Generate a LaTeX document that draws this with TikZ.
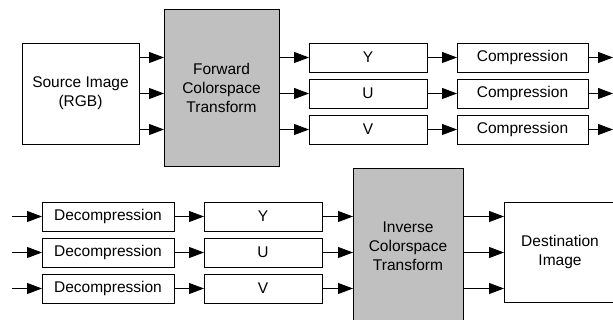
\documentclass[tikz,border=0pt]{standalone}
\usepackage{fontspec}
\setmainfont{Liberation Sans}
\usetikzlibrary{arrows.meta}
\definecolor{boxgray}{RGB}{192,192,192}
\begin{document}
\begin{tikzpicture}[x=1pt,y=-1pt,
  box/.style={draw, line width=0.9pt, rectangle, inner sep=0pt, outer sep=0pt,
    align=center, anchor=north west, font=\fontsize{15.5}{19}\selectfont},
  gbox/.style={box, fill=boxgray},
  arr/.style={line width=0.9pt, -{Triangle[length=15pt,width=11pt]}}]
\useasboundingbox (0,0) rectangle (613,320);
\clip (0,0) rectangle (613,320);
% forward part
\node[box, minimum width=117pt, minimum height=101pt] (src) at (22,43) {Source Image\\(RGB)};
\node[gbox, minimum width=115pt, minimum height=157pt] (fwd) at (164,9) {Forward\\Colorspace\\Transform};
\node[box, minimum width=118pt, minimum height=29pt] (y1) at (309,43) {Y};
\node[box, minimum width=118pt, minimum height=29pt] (u1) at (309,79) {U};
\node[box, minimum width=118pt, minimum height=29pt] (v1) at (309,115) {V};
\node[box, minimum width=131pt, minimum height=29pt] (c1) at (457,43) {Compression};
\node[box, minimum width=131pt, minimum height=29pt] (c2) at (457,79) {Compression};
\node[box, minimum width=131pt, minimum height=29pt] (c3) at (457,115) {Compression};
\coordinate (o1) at (613,57.5);
\coordinate (o2) at (613,93.5);
\coordinate (o3) at (613,129.5);
\foreach \r/\c/\o in {y1/c1/o1, u1/c2/o2, v1/c3/o3}{
  \draw[arr] (src.east |- \r) -- (fwd.west |- \r);
  \draw[arr] (fwd.east |- \r) -- (\r.west);
  \draw[arr] (\r.east) -- (\c.west);
  \draw[arr] (\c.east) -- (\o);
}
% inverse part
\node[box, minimum width=132pt, minimum height=29pt] (d1) at (42,202) {Decompression};
\node[box, minimum width=132pt, minimum height=29pt] (d2) at (42,238) {Decompression};
\node[box, minimum width=132pt, minimum height=29pt] (d3) at (42,274) {Decompression};
\node[box, minimum width=118pt, minimum height=29pt] (y2) at (204,202) {Y};
\node[box, minimum width=118pt, minimum height=29pt] (u2) at (204,238) {U};
\node[box, minimum width=118pt, minimum height=29pt] (v2) at (204,274) {V};
\node[gbox, minimum width=110pt, minimum height=157pt] (inv) at (353,168) {Inverse\\Colorspace\\Transform};
\node[box, minimum width=112pt, minimum height=100pt] (dst) at (504,202) {Destination\\Image};
\coordinate (i1) at (12,216.5);
\coordinate (i2) at (12,252.5);
\coordinate (i3) at (12,288.5);
\foreach \i/\d/\r in {i1/d1/y2, i2/d2/u2, i3/d3/v2}{
  \draw[arr] (\i) -- (\d.west);
  \draw[arr] (\d.east) -- (\r.west);
  \draw[arr] (\r.east) -- (inv.west |- \r);
  \draw[arr] (inv.east |- \r) -- (dst.west |- \r);
}
\end{tikzpicture}
\end{document}
